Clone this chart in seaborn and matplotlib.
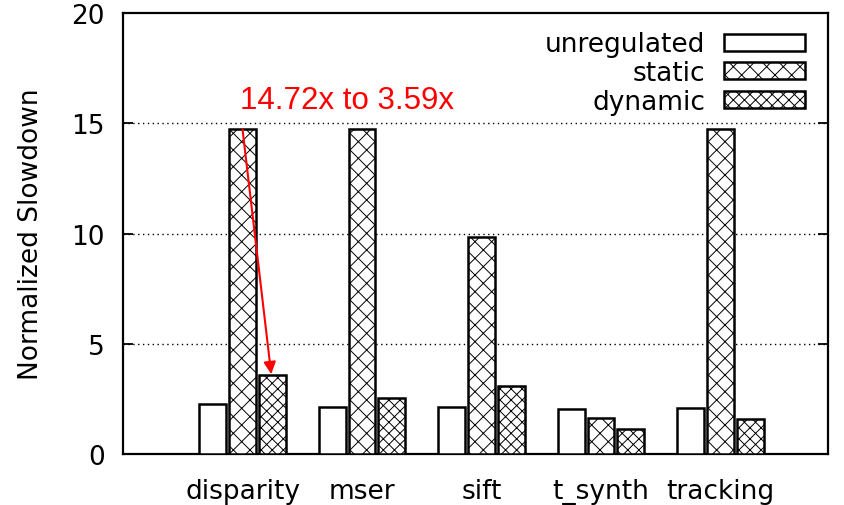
import pandas as pd
import numpy as np
import seaborn as sns
import matplotlib.pyplot as plt
from matplotlib.patches import Patch

benchmarks = ["disparity", "mser", "sift", "t_synth", "tracking"]
series = ["unregulated", "static", "dynamic"]
unregulated = [2.25, 2.15, 2.15, 2.05, 2.1]
static = [14.72, 14.72, 9.85, 1.65, 14.72]
dynamic = [3.59, 2.55, 3.1, 1.12, 1.57]
hatches = ["", "xx", "xxx"]

df = pd.DataFrame({
    "benchmark": benchmarks * 3,
    "series": [s for s in series for _ in benchmarks],
    "slowdown": unregulated + static + dynamic,
})

sns.set_style("ticks")
plt.rcParams["font.family"] = ["DejaVu Sans"]
plt.rcParams["hatch.linewidth"] = 0.7
for k in ["text.color", "axes.labelcolor", "xtick.color", "ytick.color", "axes.edgecolor"]:
    plt.rcParams[k] = "black"

fig = plt.figure(figsize=(8.45, 5.06), dpi=100)
ax = fig.add_axes([0.1456, 0.1008, 0.8344, 0.8715])

sns.barplot(data=df, x="benchmark", y="slowdown", hue="series", order=benchmarks,
            hue_order=series, palette=["white"] * 3, edgecolor="black",
            linewidth=1.8, width=0.75, gap=0.1, legend=False, ax=ax, zorder=3)

# hatches per series
for cont, h in zip(ax.containers, hatches):
    for bar in cont:
        bar.set_hatch(h)

ax.set_xlim(-1.0, 4.9)
ax.set_ylim(0, 20)
ax.set_yticks([0, 5, 10, 15, 20])
ax.set_xlabel("")
ax.set_ylabel("Normalized Slowdown", fontsize=19, labelpad=20)
ax.tick_params(axis="y", direction="in", length=7, width=1.3, right=True,
               labelsize=19, pad=13)
ax.tick_params(axis="x", length=0, labelsize=19, pad=17)
for sp in ax.spines.values():
    sp.set_linewidth(1.6)
    sp.set_visible(True)

for yv in [5, 10, 15]:
    ax.axhline(yv, color="black", linestyle=(0, (1, 2.5)), linewidth=1.0, zorder=1)

handles = [Patch(facecolor="white", edgecolor="black", hatch=h, linewidth=1.8)
           for h in hatches]
ax.legend(handles, series, loc="upper right", frameon=False, markerfirst=False,
          fontsize=19, handlelength=3.1, handleheight=0.6, handletextpad=0.7,
          labelspacing=0.1, borderaxespad=0.3, bbox_to_anchor=(0.994, 1.0))

ax.annotate("", xy=(0.24, 3.62), xytext=(0.0, 14.72),
            arrowprops=dict(arrowstyle="-|>", color="red", lw=1.5,
                            mutation_scale=18, shrinkA=0, shrinkB=0), zorder=5)
ax.text(-0.02, 16.05, "14.72x to 3.59x", color="red", fontsize=22.5,
        family=["Liberation Sans", "DejaVu Sans"], va="center", ha="left")

fig.savefig("out.png", dpi=100)
